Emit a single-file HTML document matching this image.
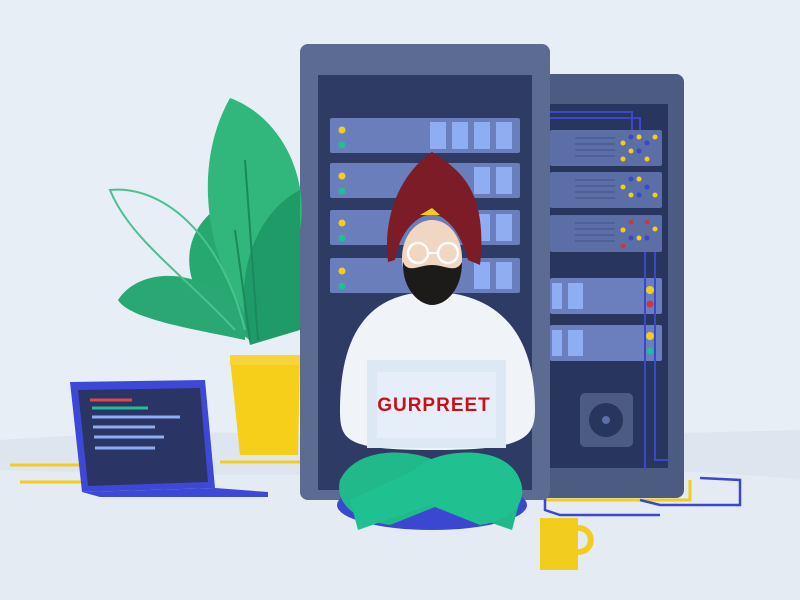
<!DOCTYPE html>
<html><head><meta charset="utf-8"><style>
html,body{margin:0;padding:0;background:#e7eef6;}
svg{display:block;}
</style></head><body>
<svg width="800" height="600" viewBox="0 0 800 600" xmlns="http://www.w3.org/2000/svg">
<rect width="800" height="600" fill="#e7eef6"/>
<path d="M0 440 Q200 425 400 440 L800 430 L800 600 L0 600Z" fill="#dde6ef"/>
<path d="M0 470 Q300 480 560 470 Q720 470 800 480 L800 600 L0 600Z" fill="#e4ebf3"/>
<path d="M10 465 L100 465 L100 482 L20 482" fill="none" stroke="#f3cd1d" stroke-width="3"/>
<path d="M220 462 L300 462" stroke="#f3cd1d" stroke-width="3"/>
<path d="M520 440 L545 440 L545 500 L690 500 L690 480" fill="none" stroke="#f3cd1d" stroke-width="3"/>
<path d="M640 500 L660 505 L740 505 L740 480 L700 478" fill="none" stroke="#3b47d0" stroke-width="2.5"/>
<path d="M545 470 L545 510 L560 515 L660 515" fill="none" stroke="#3b47d0" stroke-width="2.5"/>
<rect x="540" y="74" width="144" height="424" rx="8" fill="#4c5b82"/>
<rect x="550" y="104" width="118" height="364" fill="#28355c"/>
<g fill="#5c6ea6">
<rect x="550" y="130" width="112" height="36" rx="2"/>
<rect x="550" y="172" width="112" height="36" rx="2"/>
<rect x="550" y="215" width="112" height="37" rx="2"/>
</g>
<g fill="#6b7fbe"><rect x="550" y="278" width="112" height="36" rx="2"/><rect x="550" y="325" width="112" height="36" rx="2"/></g>
<g fill="#8fadf3"><rect x="552" y="283" width="10" height="26"/><rect x="568" y="283" width="15" height="26"/><rect x="552" y="330" width="10" height="26"/><rect x="568" y="330" width="15" height="26"/></g>
<g stroke="#4a5a95" stroke-width="1.5">
<path d="M575 138h40M575 144h40M575 150h40M575 156h40M575 180h40M575 186h40M575 192h40M575 198h40M575 223h40M575 229h40M575 235h40M575 241h40"/>
</g>
<g fill="#f3cd1d"><circle cx="623" cy="143" r="2.5"/><circle cx="639" cy="137" r="2.5"/><circle cx="655" cy="137" r="2.5"/><circle cx="631" cy="151" r="2.5"/><circle cx="647" cy="159" r="2.5"/><circle cx="623" cy="159" r="2.5"/><circle cx="623" cy="187" r="2.5"/><circle cx="639" cy="179" r="2.5"/><circle cx="655" cy="195" r="2.5"/><circle cx="631" cy="195" r="2.5"/><circle cx="655" cy="229" r="2.5"/><circle cx="623" cy="230" r="2.5"/><circle cx="639" cy="238" r="2.5"/><circle cx="650" cy="290" r="4"/><circle cx="650" cy="336" r="4"/></g>
<g fill="#3b47d0"><circle cx="631" cy="137" r="2.5"/><circle cx="647" cy="143" r="2.5"/><circle cx="639" cy="151" r="2.5"/><circle cx="631" cy="179" r="2.5"/><circle cx="647" cy="187" r="2.5"/><circle cx="639" cy="195" r="2.5"/><circle cx="631" cy="238" r="2.5"/><circle cx="647" cy="238" r="2.5"/></g>
<g fill="#c83a3a"><circle cx="631" cy="222" r="2.5"/><circle cx="647" cy="222" r="2.5"/><circle cx="623" cy="246" r="2.5"/><circle cx="650" cy="304" r="3.5"/></g>
<circle cx="650" cy="351" r="3.5" fill="#21c08f"/>
<path d="M645 252 V470 M655 252 V460 H668" fill="none" stroke="#3b47d0" stroke-width="2"/>
<path d="M550 112 H632 V130 M550 118 H640 V130" fill="none" stroke="#3b47d0" stroke-width="2"/>
<rect x="580" y="393" width="53" height="54" rx="5" fill="#4c5b82"/>
<circle cx="606" cy="420" r="17" fill="#28355c"/><circle cx="606" cy="420" r="4" fill="#5c6ea6"/>
<rect x="300" y="44" width="250" height="456" rx="8" fill="#5b6b92"/>
<rect x="318" y="75" width="214" height="415" fill="#2e3b64"/>
<g fill="#6a7ebc">
<rect x="330" y="118" width="190" height="35" rx="2"/><rect x="330" y="163" width="190" height="35" rx="2"/><rect x="330" y="210" width="190" height="35" rx="2"/><rect x="330" y="258" width="190" height="35" rx="2"/>
</g>
<g fill="#8fadf3">
<rect x="430" y="122" width="16" height="27"/><rect x="452" y="122" width="16" height="27"/><rect x="474" y="122" width="16" height="27"/><rect x="496" y="122" width="16" height="27"/>
<rect x="474" y="167" width="16" height="27"/><rect x="496" y="167" width="16" height="27"/>
<rect x="474" y="214" width="16" height="27"/><rect x="496" y="214" width="16" height="27"/>
<rect x="474" y="262" width="16" height="27"/><rect x="496" y="262" width="16" height="27"/>
</g>
<g fill="#f3cd1d"><circle cx="342" cy="130" r="3.5"/><circle cx="342" cy="176" r="3.5"/><circle cx="342" cy="223" r="3.5"/><circle cx="342" cy="271" r="3.5"/></g>
<g fill="#21c08f"><circle cx="342" cy="145" r="3.5"/><circle cx="342" cy="191" r="3.5"/><circle cx="342" cy="238" r="3.5"/><circle cx="342" cy="286" r="3.5"/></g>
<path d="M235 330 C180 300 170 230 230 200 C270 230 280 290 250 340Z" fill="#27a870"/>
<path d="M255 330 C200 250 195 160 230 98 C290 120 320 200 290 260 C280 300 270 320 255 330Z" fill="#31b77c"/>
<path d="M245 340 C200 330 130 320 118 300 C140 265 210 265 245 320Z" fill="#2aa874"/>
<path d="M250 345 C230 270 260 210 300 190 L300 330Z" fill="#1f9b68"/>
<path d="M235 330 C190 280 130 240 110 190 C160 185 220 230 245 330" fill="none" stroke="#49c28f" stroke-width="2"/>
<path d="M250 340 L235 230 M258 340 L245 160" stroke="#1a8a5c" stroke-width="2"/>
<path d="M230 358 L300 358 L298 455 L240 455Z" fill="#f5cf1a"/>
<rect x="230" y="355" width="70" height="10" fill="#f7d53a"/>
<path d="M70 382 L205 380 L215 488 L82 492Z" fill="#3d49d6"/>
<path d="M78 390 L200 388 L208 482 L88 486Z" fill="#2a3566"/>
<path d="M82 492 L215 488 L268 492 L268 497 L100 497Z" fill="#3d49d6"/>
<g stroke-width="3"><path d="M90 400h42" stroke="#e04848"/><path d="M92 408h56" stroke="#21c08f"/><path d="M92 417h88" stroke="#8fadf3"/><path d="M93 427h62" stroke="#8fadf3"/><path d="M94 437h70" stroke="#8fadf3"/><path d="M95 448h60" stroke="#8fadf3"/></g>
<ellipse cx="432" cy="505" rx="95" ry="25" fill="#3b47d0"/>
<path d="M340 480 C360 440 430 450 450 470 L520 500 L512 530 L440 505 L390 525 C350 520 335 500 340 480Z" fill="#21b98a"/>
<path d="M520 480 C505 440 430 450 415 470 L350 500 L358 530 L430 505 L480 525 C515 520 528 500 520 480Z" fill="#1fc190"/>
<path d="M340 410 C340 320 380 292 432 292 C485 292 535 320 535 410 C535 440 520 450 432 450 C345 450 340 440 340 410Z" fill="#f0f4f9"/>
<rect x="413" y="270" width="38" height="30" rx="10" fill="#e9b896"/>
<rect x="367" y="360" width="139" height="88" fill="#dde8f5"/>
<rect x="377" y="372" width="119" height="66" fill="#e6eff9"/>
<text x="434" y="411" text-anchor="middle" font-family="Liberation Sans, sans-serif" font-weight="bold" font-size="19" fill="#c8101a" letter-spacing="1">GURPREET</text>
<ellipse cx="432" cy="258" rx="30" ry="38" fill="#f1d6c2"/>
<path d="M403 262 C402 290 420 305 432 305 C446 305 462 290 462 262 C456 274 445 265 432 265 C419 265 408 274 403 262Z" fill="#1d1b1a"/>
<circle cx="418" cy="253" r="10" fill="none" stroke="#fff" stroke-width="2.5"/>
<circle cx="448" cy="253" r="10" fill="none" stroke="#fff" stroke-width="2.5"/>
<path d="M428 253h10" stroke="#fff" stroke-width="2"/>
<path d="M432 152 C460 170 488 190 480 265 L468 260 C460 230 445 215 432 214 C418 215 400 230 395 260 L388 262 C382 210 405 170 432 152Z" fill="#7c1c26"/>
<path d="M420 215 L440 215 L432 208Z" fill="#f3cd1d"/>
<path d="M540 518 L578 518 L578 570 L540 570Z" fill="#f3cd1d"/>
<path d="M578 528 C595 528 595 552 578 552" fill="none" stroke="#f3cd1d" stroke-width="6"/>
</svg>
</body></html>
